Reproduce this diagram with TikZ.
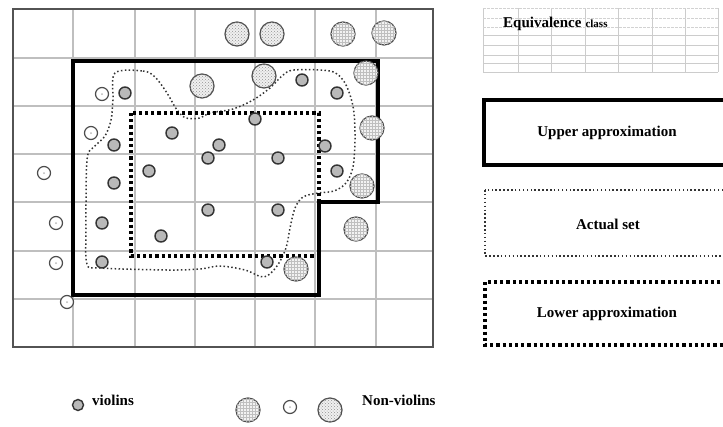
\documentclass[tikz,border=0pt]{standalone}
\usepackage{fontspec}
\setmainfont{Liberation Serif}
\usetikzlibrary{patterns}
\begin{document}
\begin{tikzpicture}[x=1pt,y=-1pt,
  gridline/.style={draw=gray!50,line width=1.2pt},
  frameline/.style={draw=gray!65!black,line width=1.3pt},
  upperline/.style={draw=black,line width=3.3pt,line join=miter},
  lowerline/.style={draw=black,line width=3.2pt,dash pattern=on 3.2pt off 3pt},
  actualline/.style={draw=gray!40!black,line width=1.5pt,dash pattern=on 1.5pt off 2.4pt,line cap=butt},
  violin/.style={circle,draw=gray!40!black,line width=1.4pt,fill=gray!55,minimum size=12pt,inner sep=0pt},
  smallnv/.style={circle,draw=gray!60!black,line width=1.2pt,fill=white,minimum size=13pt,inner sep=0pt,
    path picture={\fill[gray!55] (path picture bounding box.center) circle (1pt);}},
  dotnv/.style={circle,draw=gray!60!black,line width=1.2pt,fill=gray!12,minimum size=24pt,inner sep=0pt,
    postaction={pattern=crosshatch dots,pattern color=gray!85}},
  gridnv/.style={circle,draw=gray!60!black,line width=1.2pt,fill=gray!10,minimum size=24pt,inner sep=0pt,
    postaction={pattern=grid,pattern color=gray!50}},
  lbl/.style={font=\fontsize{15}{18}\selectfont\bfseries,inner sep=0pt}
]
\useasboundingbox (0,0) rectangle (723,426);
\fill[white] (0,0) rectangle (723,426);

% ---- universe: equivalence-class grid ----
\foreach \gx in {73,135,195,255,315,376}
  \draw[gridline] (\gx,9) -- (\gx,347);
\foreach \gy in {58,106,154,202,251,299}
  \draw[gridline] (13,\gy) -- (433,\gy);
\draw[frameline] (13,9) rectangle (433,347);

% ---- upper approximation ----
\draw[upperline] (73,61) -- (378,61) -- (378,202) -- (319,202) -- (319,295) -- (73,295) -- cycle;

% ---- actual set boundary ----
\draw[actualline] plot[smooth cycle,tension=0.55] coordinates {
  (115,73) (143,71) (155,77) (167,93) (177,110) (186,118) (200,118) (210,113)
  (233,109) (253,100) (270,88) (282,76) (294,70) (330,71) (343,80) (350,95)
  (354,113) (355,140) (353,167) (346,183) (334,191) (318,193) (303,197) (295,208)
  (290,228) (286,248) (277,266) (264,277) (245,270) (220,266) (200,269)
  (167,270) (100,268) (87,264) (86,230) (87,160) (94,147) (105,136) (111,120) (113,100)};

% ---- lower approximation ----
\draw[lowerline] (131,113) rectangle (319,256);

% ---- violins ----
\foreach \px/\py [count=\i] in {125/93,302/80,337/93,255/119,172/133,114/145,219/145,208/158,
   278/158,325/146,149/171,337/171,114/183,208/210,278/210,102/223,161/236,102/262,267/262}
  \node[violin] (v\i) at (\px,\py) {};

% ---- non-violins ----
\foreach \px/\py [count=\i] in {102/94,91/133,44/173,56/223,56/263,67/302}
  \node[smallnv] (s\i) at (\px,\py) {};
\foreach \px/\py [count=\i] in {237/34,272/34,202/86,264/76}
  \node[dotnv] (d\i) at (\px,\py) {};
\foreach \px/\py [count=\i] in {343/34,384/33,366/73,372/128,362/186,356/229,296/269}
  \node[gridnv] (g\i) at (\px,\py) {};

% ---- legend: equivalence class ----
\foreach \gx in {483,518,551,585,618,652,685,718}
  \draw[draw=gray!40,line width=0.9pt] (\gx,8) -- (\gx,72);
\foreach \gy in {8,18,27}
  \draw[draw=gray!35,line width=0.9pt,dash pattern=on 3pt off 1pt] (483,\gy) -- (718,\gy);
\foreach \gy in {35,45,55,63,72}
  \draw[draw=gray!40,line width=0.9pt] (483,\gy) -- (718,\gy);
\node[lbl,anchor=west] (eqtext) at (503,24) {Equivalence\hspace{4pt}{\fontsize{11}{13}\selectfont class}};

% ---- legend: approximation boxes ----
\begin{scope}
\clip (0,0) rectangle (723,426);
\draw[upperline] (484,100) rectangle (735,165);
\draw[actualline] (485,190) rectangle (735,256);
\draw[lowerline] (485,282) rectangle (735,345);
\end{scope}
\node[lbl] (uppertext) at (607,133) {Upper approximation};
\node[lbl] (actualtext) at (608,224) {Actual set};
\node[lbl] (lowertext) at (607,314) {Lower approximation};

% ---- legend: objects ----
\node[violin,minimum size=11pt] (lv) at (78,405) {};
\node[lbl,anchor=west] (violintext) at (92,400) {violins};
\node[gridnv] (lg) at (248,410) {};
\node[smallnv] (ls) at (290,407) {};
\node[dotnv] (ld) at (330,410) {};
\node[lbl,anchor=west] (nonviolintext) at (362,400) {Non-violins};
\end{tikzpicture}
\end{document}
